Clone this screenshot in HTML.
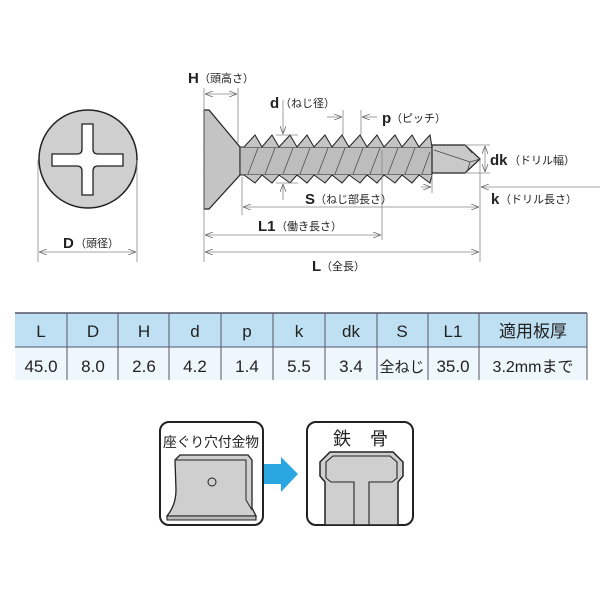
<!DOCTYPE html>
<html><head><meta charset="utf-8"><style>
body{margin:0;background:#fff;}
svg text{font-family:"Liberation Sans","Noto Sans CJK JP",sans-serif;fill:#222;}
</style></head><body>
<svg width="600" height="600" viewBox="0 0 600 600" xmlns="http://www.w3.org/2000/svg">
<defs>
<marker id="a" markerWidth="8" markerHeight="6" refX="8" refY="3" orient="auto-start-reverse" markerUnits="userSpaceOnUse"><path d="M0,0 L8,3 L0,6" fill="none" stroke="#666" stroke-width="0.8"/></marker>
</defs>
<circle cx="88" cy="159" r="49" fill="#cfcfcf" stroke="#222" stroke-width="1.5"/>
<path d="M82,124 h11 v25 q0,5 5,5 h25 v12 h-25 q-5,0 -5,5 v24 h-11 v-24 q0,-5 -5,-5 h-25 v-12 h25 q5,0 5,-5 z" fill="#fff" stroke="#222" stroke-width="1.3"/>
<g stroke="#888" stroke-width="0.8" fill="none">
<line x1="38" y1="160" x2="38" y2="262"/><line x1="137" y1="160" x2="137" y2="262"/>
<line x1="39" y1="252" x2="136" y2="252" marker-start="url(#a)" marker-end="url(#a)"/>
</g>
<text x="63" y="248" font-size="15" font-weight="bold">D</text><text x="75" y="247" font-size="11">（頭径）</text>

<path d="M204,110 L209,110 L240,147 L240,175 L209,209 L204,209 Z" fill="#c4c4c4" stroke="#222" stroke-width="1.2"/>
<rect x="240" y="147" width="192" height="28" fill="#bdbdbd" stroke="#222" stroke-width="1"/>
<path d="M244,147 L255,135 L262,147 L272,135 L279,147 L290,135 L297,147 L307,135 L314,147 L325,135 L332,147 L342,135 L349,147 L360,135 L367,147 L377,135 L384,147 L395,135 L402,147 L412,135 L419,147 L430,135 L432,147" fill="#c4c4c4" stroke="#222" stroke-width="1"/>
<path d="M244,175 L255,183 L262,175 L272,183 L279,175 L290,183 L297,175 L307,183 L314,175 L325,183 L332,175 L342,183 L349,175 L360,183 L367,175 L377,183 L384,175 L395,183 L402,175 L412,183 L419,175 L430,183 L432,175" fill="#c4c4c4" stroke="#222" stroke-width="1"/>
<g stroke="#444" stroke-width="0.7">
<line x1="248" y1="174" x2="258" y2="148"/><line x1="265" y1="174" x2="275" y2="148"/><line x1="283" y1="174" x2="293" y2="148"/><line x1="300" y1="174" x2="310" y2="148"/><line x1="318" y1="174" x2="328" y2="148"/><line x1="335" y1="174" x2="345" y2="148"/><line x1="353" y1="174" x2="363" y2="148"/><line x1="370" y1="174" x2="380" y2="148"/><line x1="388" y1="174" x2="398" y2="148"/><line x1="405" y1="174" x2="415" y2="148"/><line x1="422" y1="174" x2="430" y2="152"/>
</g>
<path d="M432,145 L465,145 L480,159 L465,173 L432,173 Z" fill="#c9c9c9" stroke="#222" stroke-width="1.2"/>
<path d="M434,150 L470,162 L480,159 M470,162 L467,172 M465,145 L472,153" fill="none" stroke="#444" stroke-width="0.8"/>

<g stroke="#888" stroke-width="0.8" fill="none">
<line x1="204" y1="88" x2="204" y2="262"/><line x1="238" y1="88" x2="238" y2="143"/>
<line x1="205" y1="94" x2="237" y2="94" marker-start="url(#a)" marker-end="url(#a)"/>
<line x1="283" y1="100" x2="283" y2="134" marker-end="url(#a)"/>
<line x1="283" y1="200" x2="283" y2="184" marker-end="url(#a)"/>
<line x1="276" y1="135" x2="298" y2="135"/><line x1="276" y1="183" x2="298" y2="183"/>
<line x1="343" y1="110" x2="343" y2="135"/><line x1="361" y1="110" x2="361" y2="135"/>
<line x1="327" y1="117" x2="342" y2="117" marker-end="url(#a)"/>
<line x1="377" y1="117" x2="362" y2="117" marker-end="url(#a)"/>
<line x1="465" y1="145" x2="490" y2="145"/><line x1="465" y1="173" x2="490" y2="173"/>
<line x1="485" y1="146" x2="485" y2="172" marker-start="url(#a)" marker-end="url(#a)"/>
<line x1="432" y1="175" x2="432" y2="193"/><line x1="480" y1="160" x2="480" y2="262"/>
<line x1="421" y1="187" x2="431" y2="187" marker-end="url(#a)"/>
<line x1="600" y1="187" x2="481" y2="187" marker-end="url(#a)"/>
<line x1="242" y1="177" x2="242" y2="215"/>
<line x1="243" y1="207" x2="479" y2="207" marker-start="url(#a)" marker-end="url(#a)"/>
<line x1="382" y1="150" x2="382" y2="240"/>
<line x1="205" y1="235" x2="381" y2="235" marker-start="url(#a)" marker-end="url(#a)"/>
<line x1="205" y1="252" x2="479" y2="252" marker-start="url(#a)" marker-end="url(#a)"/>
</g>
<g font-weight="bold" font-size="15">
<text x="188" y="83">H</text><text x="270" y="108">d</text><text x="382" y="123">p</text><text x="490" y="165">dk</text><text x="491" y="204">k</text><text x="305" y="204">S</text><text x="258" y="231">L1</text><text x="312" y="271">L</text>
</g>
<g font-size="11">
<text x="199" y="82">（頭高さ）</text><text x="280" y="107">（ねじ径）</text><text x="391" y="122">（ピッチ）</text><text x="509" y="164">（ドリル幅）</text><text x="500" y="203">（ドリル長さ）</text><text x="315" y="203">（ねじ部長さ）</text><text x="276" y="230">（働き長さ）</text><text x="321" y="270">（全長）</text>
</g>

<rect x="15" y="313" width="572" height="34" fill="#bfe0f3"/>
<rect x="15" y="347" width="572" height="33" fill="#eef7fc"/>
<line x1="15" y1="313" x2="587" y2="313" stroke="#556" stroke-width="1.5"/>
<line x1="15" y1="347" x2="587" y2="347" stroke="#556" stroke-width="1"/>
<g stroke="#556" stroke-width="1">
<line x1="67" y1="313" x2="67" y2="380"/><line x1="118" y1="313" x2="118" y2="380"/><line x1="169" y1="313" x2="169" y2="380"/><line x1="221" y1="313" x2="221" y2="380"/><line x1="273" y1="313" x2="273" y2="380"/><line x1="325" y1="313" x2="325" y2="380"/><line x1="377" y1="313" x2="377" y2="380"/><line x1="428" y1="313" x2="428" y2="380"/><line x1="479" y1="313" x2="479" y2="380"/><line x1="587" y1="313" x2="587" y2="380"/>
</g>
<g font-size="17" text-anchor="middle">
<text x="41" y="337">L</text><text x="93" y="337">D</text><text x="144" y="337">H</text><text x="195" y="337">d</text><text x="247" y="337">p</text><text x="299" y="337">k</text><text x="351" y="337">dk</text><text x="402" y="337">S</text><text x="453" y="337">L1</text><text x="533" y="337">適用板厚</text>
<text x="41" y="372">45.0</text><text x="93" y="372">8.0</text><text x="144" y="372">2.6</text><text x="195" y="372">4.2</text><text x="247" y="372">1.4</text><text x="299" y="372">5.5</text><text x="351" y="372">3.4</text><text x="402" y="372" font-size="15">全ねじ</text><text x="453" y="372">35.0</text><text x="533" y="372" font-size="16">3.2mmまで</text>
</g>

<rect x="160" y="422" width="103" height="103" rx="9" fill="#fff" stroke="#222" stroke-width="2"/>
<text x="211" y="447" font-size="14" text-anchor="middle" textLength="96" lengthAdjust="spacingAndGlyphs">座ぐり穴付金物</text>
<path d="M175,460 L180,455 L248,455 L252,460 L252,508 L256,516 L167,516 Q176,505 176,490 Z" fill="#cfcfcf" stroke="#222" stroke-width="1.3"/>
<path d="M176,460 L246,460 L246,500 L252,510" fill="none" stroke="#222" stroke-width="1"/>
<path d="M167,516 L256,516 L256,520 L167,520 Z" fill="#bbb" stroke="#222" stroke-width="1.1"/>
<circle cx="212" cy="482" r="4" fill="none" stroke="#222" stroke-width="1"/>
<path d="M264,464 L281,464 L281,457 L298,474 L281,492 L281,484 L264,484 Z" fill="#2aa6e0"/>
<rect x="307" y="422" width="106" height="103" rx="9" fill="#fff" stroke="#222" stroke-width="2"/>
<text x="333" y="445" font-size="18">鉄</text><text x="370" y="445" font-size="18">骨</text>
<path d="M325,525 L325,482 L320,476 L320,462 L330,452 L393,452 L403,462 L403,476 L398,482 L398,525 Z" fill="#cfcfcf" stroke="#222" stroke-width="1.5"/>
<path d="M326,478 L326,462 L333,456 L390,456 L397,462 L397,478 L392,482 L369,482 L369,525 M326,478 L331,482 L354,482 L354,525" fill="none" stroke="#222" stroke-width="1.1"/>
</svg>
</body></html>
